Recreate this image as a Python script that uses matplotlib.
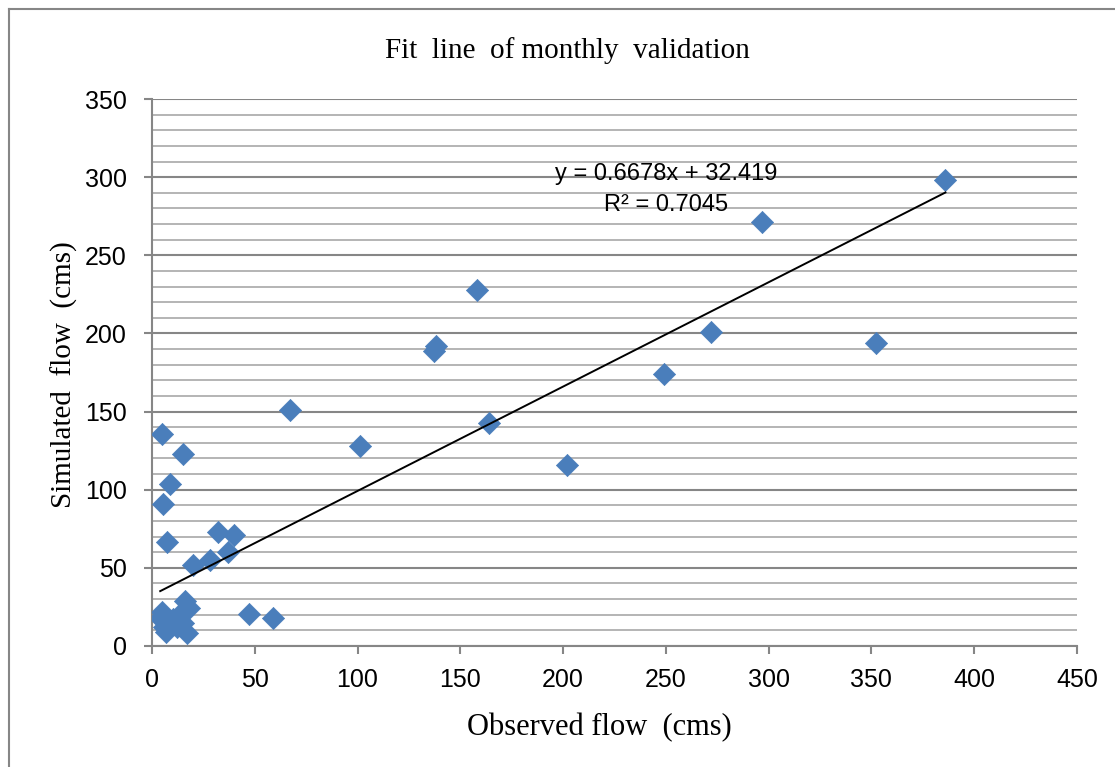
import matplotlib
matplotlib.use("Agg")
import matplotlib.pyplot as plt
from matplotlib.lines import Line2D
from matplotlib.ticker import MultipleLocator

# observed vs simulated monthly flow (cms)
observed = [386, 297, 272, 249, 352, 202, 164, 158, 137, 138, 101, 67,
            5, 15, 9, 5.5, 7.5, 32, 40, 37, 28, 20, 47, 59,
            4, 5, 7, 8, 10, 12, 13, 15, 16, 18, 17, 6]
simulated = [298, 271, 201, 174, 194, 116, 143, 228, 189, 192, 128, 151,
             135.6, 122.8, 103.6, 90.7, 66.3, 73, 71, 60, 55, 51.5, 20.5, 17.7,
             18, 22, 9, 14, 17, 12, 20, 15, 29, 24, 8, 12]

# trend line as reported on the chart
slope = 0.6678
intercept = 32.419
r_squared = 0.7045

x_ticks = [0, 50, 100, 150, 200, 250, 300, 350, 400, 450]
y_ticks = [0, 50, 100, 150, 200, 250, 300, 350]

serif = ["Liberation Serif", "DejaVu Serif"]
sans = ["Liberation Sans", "DejaVu Sans"]

fig = plt.figure(figsize=(11.15, 7.67), dpi=100)
ax = fig.add_axes([0.1363, 0.1578, 0.8296, 0.7131])

# gridlines: light every 10, darker every 50
ax.yaxis.set_minor_locator(MultipleLocator(10))
ax.grid(axis="y", which="minor", color="#b4b4b4", linewidth=1.4, zorder=0)
ax.grid(axis="y", which="major", color="#868686", linewidth=1.5, zorder=0)
ax.set_axisbelow(True)

ax.scatter(observed, simulated, marker="D", s=11.3 ** 2, color="#4a7ebb",
           edgecolors="#4a7ebb", linewidths=0.5, zorder=3)

x0, x1 = min(observed), max(observed)
ax.plot([x0, x1], [slope * x0 + intercept, slope * x1 + intercept],
        color="black", linewidth=1.4, zorder=4)

ax.text(250, 302, f"y = {slope}x + {intercept}", fontsize=17, family=sans,
        ha="center", va="center", zorder=5)
ax.text(250, 282, f"R\u00b2 = {r_squared}", fontsize=17, family=sans,
        ha="center", va="center", zorder=5)

ax.set_xlim(0, 450)
ax.set_ylim(0, 350)
ax.set_xticks(x_ticks)
ax.set_yticks(y_ticks)
ax.tick_params(axis="both", which="major", length=6, width=1.5, color="#868686",
               labelsize=18, direction="out")
ax.tick_params(axis="x", pad=10)
ax.tick_params(axis="y", pad=12)
ax.tick_params(axis="y", which="minor", length=0)
for lab in ax.get_xticklabels() + ax.get_yticklabels():
    lab.set_family(sans)

for side in ["top", "right"]:
    ax.spines[side].set_visible(False)
for side in ["left", "bottom"]:
    ax.spines[side].set_color("#868686")
    ax.spines[side].set_linewidth(1.5)

fig.text(0.5085, 0.934, "Fit  line  of monthly  validation", fontsize=21,
         family=serif, ha="center", va="center")
fig.text(0.538, 0.052, "Observed flow  (cms)", fontsize=22,
         family=serif, ha="center", va="center")
fig.text(0.0574, 0.512, "Simulated  flow  (cms)", fontsize=21,
         family=serif, ha="center", va="center", rotation=90)

# chart area border (only left and top edges are inside the picture)
fig.add_artist(Line2D([9 / 1115, 9 / 1115], [0, 1 - 9 / 767],
                      transform=fig.transFigure, color="#868686", linewidth=1.5))
fig.add_artist(Line2D([9 / 1115, 1], [1 - 9 / 767, 1 - 9 / 767],
                      transform=fig.transFigure, color="#868686", linewidth=1.5))

fig.savefig("out.png", dpi=100)
